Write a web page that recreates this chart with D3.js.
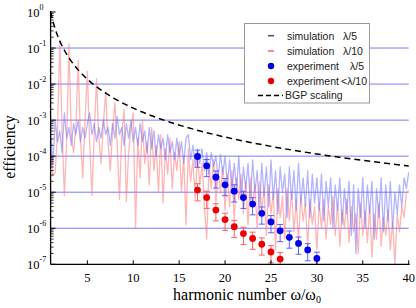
<!DOCTYPE html>
<html><head><meta charset="utf-8">
<script src="https://cdn.jsdelivr.net/npm/d3@7"></script>
<style>body{margin:0;background:#fff}svg{display:block}</style>
</head><body>
<svg id="c" width="416" height="308"></svg>
<script>
// simulation sampling grid: harmonics 1 .. 40 in steps of 0.25 (157 samples)
const simHarmonics = d3.range(157).map(i => 1 + i * 0.25);
// log10(efficiency)
const simLambda10Log = [
 -3.75,-4.55,-4.45,-3.3,
 -0.85,-3.3,-5.1,-3.6,
 -0.88,-3.4,-3.9,-3.2,
 -1.35,-3.5,-4.6,-3.0,
 -1.65,-3.6,-5.1,-3.4,
 -1.85,-3.5,-4.2,-3.1,
 -2.2,-3.6,-4.4,-3.3,
 -2.5,-3.7,-5.2,-3.4,
 -2.7,-5.25,-3.9,-3.2,
 -2.8,-6.0,-3.5,-4.6,
 -3.0,-4.2,-3.6,-4.8,
 -3.2,-4.4,-3.7,-5.0,
 -3.4,-5.3,-3.8,-4.5,
 -3.5,-4.9,-3.9,-4.4,
 -3.6,-5.0,-4.0,-5.9,
 -3.8,-4.7,-4.1,-5.2,
 -3.9,-4.8,-4.2,-5.4,
 -6.3,-4.3,-4.9,-4.1,
 -5.3,-4.4,-5.0,-4.3,
 -5.5,-4.5,-5.4,-4.4,
 -5.8,-4.6,-5.2,-4.5,
 -5.6,-4.7,-5.9,-4.6,
 -5.4,-4.8,-6.0,-4.7,
 -5.5,-4.9,-6.2,-4.8,
 -5.6,-5.0,-6.6,-4.9,
 -5.7,-5.1,-6.3,-4.9,
 -5.8,-5.0,-6.1,-5.2,
 -6.4,-5.1,-5.8,-5.3,
 -6.5,-5.2,-5.9,-5.4,
 -6.6,-5.3,-6.0,-5.2,
 -6.3,-5.4,-5.9,-5.1,
 -6.2,-5.3,-6.5,-5.5,
 -6.0,-5.2,-6.4,-5.4,
 -6.1,-5.6,-6.7,-5.3,
 -6.2,-5.5,-6.4,-5.4,
 -6.8,-5.6,-6.3,-5.3,
 -6.5,-5.7,-6.2,-5.5,
 -6.6,-5.8,-7.0,-5.6,
 -6.1,-5.4,-5.7,-5.0,
 -4.95];
const simLambda5Log = [
 -3.3,-4.2,-3.0,-3.6,
 -3.3,-3.9,-2.8,-3.5,
 -3.2,-3.7,-3.1,-3.4,
 -3.0,-3.6,-3.2,-3.5,
 -3.1,-2.8,-3.4,-3.1,
 -3.6,-3.2,-3.5,-3.0,
 -3.4,-3.2,-3.7,-3.1,
 -3.5,-2.9,-3.4,-3.2,
 -3.7,-3.1,-3.5,-3.0,
 -3.6,-3.2,-3.7,-3.1,
 -3.6,-3.3,-3.9,-3.2,
 -3.8,-3.3,-4.0,-3.4,
 -3.8,-3.5,-4.1,-3.4,
 -3.9,-3.6,-4.1,-3.5,
 -4.0,-3.6,-4.2,-3.5,
 -3.4,-4.1,-3.7,-4.3,
 -3.8,-4.2,-3.8,-4.4,
 -3.9,-4.5,-3.9,-4.3,
 -4.0,-4.6,-3.95,-4.5,
 -4.0,-4.8,-4.1,-5.0,
 -4.2,-4.9,-4.0,-5.2,
 -4.3,-4.9,-4.2,-5.3,
 -4.1,-5.0,-4.4,-5.5,
 -4.2,-5.1,-4.3,-5.4,
 -4.1,-5.2,-4.4,-5.6,
 -4.3,-5.0,-4.5,-5.7,
 -4.3,-5.2,-4.4,-5.5,
 -4.2,-5.3,-4.6,-5.4,
 -4.4,-5.7,-4.5,-5.3,
 -4.6,-5.5,-4.5,-5.8,
 -4.7,-5.4,-4.6,-6.0,
 -4.8,-5.5,-4.6,-5.9,
 -4.9,-5.6,-4.7,-6.2,
 -4.8,-6.7,-4.9,-5.7,
 -4.6,-6.0,-4.8,-5.6,
 -4.7,-6.3,-4.9,-5.7,
 -4.6,-6.1,-4.8,-5.8,
 -4.7,-6.0,-5.0,-5.6,
 -4.8,-5.4,-4.6,-4.9,
 -4.45];
// BGP scaling curve
const bgpHarmonics = [1,1.5,2,2.5,3,4,5,6,7,8,10,12,14,16,18,20,22.5,25,27.5,30,32.5,35,37.5,40];
const bgpValues = [1.0,0.339,0.157,0.0869,0.0534,0.0248,0.01368,0.0084,0.00558,0.0039,0.00215,0.001325,0.000878,0.000615,0.000449,0.000339,0.000248,0.000187,0.000145,0.000115,9.3e-5,7.63e-5,6.35e-5,5.34e-5];
// experiment
const expL5Harmonics = [17,18,19,20,21,22,23,24,25,26,27,28,29,30];
const expL5Values = [9.8e-5,5.4e-5,2.6e-5,1.6e-5,1.07e-5,7.1e-6,4.7e-6,2.6e-6,1.5e-6,8.5e-7,5.6e-7,3.8e-7,2.5e-7,1.45e-7];
const expL5RelErr = [0.5,0.5,0.5,0.5,0.5,0.5,0.5,0.5,0.5,0.5,0.5,0.5,0.5,0.5];
const expL10Harmonics = [17,18,19,20,21,22,23,24,25,26];
const expL10Values = [1.15e-5,7.1e-6,3.2e-6,1.74e-6,1.1e-6,7.1e-7,5.2e-7,3.6e-7,2.2e-7,1.4e-7];
const expL10RelErr = [0.5,0.5,0.5,0.5,0.5,0.5,0.5,0.5,0.5,0.5];
// axes
const xTicks = [5,10,15,20,25,30,35,40];
const yExponents = [0,-1,-2,-3,-4,-5,-6,-7];
const gridExponents = [-1,-2,-3,-4,-5,-6];

const svg = d3.select("#c");
const x = d3.scaleLinear().domain([1,40]).range([50.6,408.7]);
const y = d3.scaleLog().domain([1e-7,1]).range([264.3,12]);
const serif = "'Liberation Serif','Times New Roman',serif";
const sans = "'Liberation Sans',Arial,sans-serif";

svg.append("defs").append("clipPath").attr("id","plot")
  .append("rect").attr("x",x(1)).attr("y",y(1)-1).attr("width",x(40)-x(1)+1).attr("height",y(1e-7)-y(1)+1);

// grid
svg.append("g").selectAll("line").data(gridExponents).join("line")
  .attr("x1",x(1)).attr("x2",x(40))
  .attr("y1",d=>y(Math.pow(10,d))).attr("y2",d=>y(Math.pow(10,d)))
  .attr("stroke","#7a7aff").attr("stroke-width",1);

const plot = svg.append("g").attr("clip-path","url(#plot)");
const simLine = d3.line().x((d,i)=>x(simHarmonics[i])).y(d=>y(Math.pow(10,d)));
plot.append("path").attr("d",simLine(simLambda10Log)).attr("fill","none")
  .attr("stroke","#ff7a7a").attr("stroke-opacity",0.55).attr("stroke-width",1.3).attr("stroke-linejoin","round");
plot.append("path").attr("d",simLine(simLambda5Log)).attr("fill","none")
  .attr("stroke","#6a6aff").attr("stroke-opacity",0.5).attr("stroke-width",1.3).attr("stroke-linejoin","round");

// BGP
const bgpLine = d3.line().curve(d3.curveMonotoneX).x((d,i)=>x(bgpHarmonics[i])).y(d=>y(d));
plot.append("path").attr("d",bgpLine(bgpValues)).attr("fill","none")
  .attr("stroke","#000").attr("stroke-width",1.5).attr("stroke-dasharray","6,4");

// experiment
function expSeries(hs, vs, errs, barColor, dotColor){
  const g = plot.append("g");
  hs.forEach((h,i)=>{
    const v = vs[i], e = errs[i];
    const yt = y(v*(1+e)), yb = y(Math.max(v*(1-e),1e-9));
    g.append("line").attr("x1",x(h)).attr("x2",x(h)).attr("y1",yt).attr("y2",yb).attr("stroke",barColor).attr("stroke-width",0.9);
    g.append("line").attr("x1",x(h)-3).attr("x2",x(h)+3).attr("y1",yt).attr("y2",yt).attr("stroke",barColor).attr("stroke-width",0.9);
    g.append("line").attr("x1",x(h)-3).attr("x2",x(h)+3).attr("y1",yb).attr("y2",yb).attr("stroke",barColor).attr("stroke-width",0.9);
  });
  g.selectAll("circle").data(vs).join("circle")
    .attr("cx",(d,i)=>x(hs[i])).attr("cy",d=>y(d)).attr("r",3.4).attr("fill",dotColor);
}
expSeries(expL5Harmonics, expL5Values, expL5RelErr, "#5050ff", "#0000ee");
expSeries(expL10Harmonics, expL10Values, expL10RelErr, "#ff5050", "#ee0000");

// axes
const ax = svg.append("g");
ax.append("line").attr("x1",x(1)).attr("x2",x(40)+1).attr("y1",y(1e-7)).attr("y2",y(1e-7)).attr("stroke","#000").attr("stroke-width",1.3);
ax.append("line").attr("x1",x(1)).attr("x2",x(1)).attr("y1",y(1)-1).attr("y2",y(1e-7)).attr("stroke","#000").attr("stroke-width",1.3);
xTicks.forEach(t=>{
  ax.append("line").attr("x1",x(t)).attr("x2",x(t)).attr("y1",y(1e-7)).attr("y2",y(1e-7)-4).attr("stroke","#000").attr("stroke-width",1);
  ax.append("text").attr("x",x(t)).attr("y",282).attr("text-anchor","middle")
    .attr("font-family",serif).attr("font-size",12.5).text(t);
});
yExponents.forEach(e=>{
  const yy = y(Math.pow(10,e));
  ax.append("line").attr("x1",x(1)).attr("x2",x(1)+5).attr("y1",yy).attr("y2",yy).attr("stroke","#000").attr("stroke-width",1);
  if (e > -7) for (let m=2;m<=9;m++){
    const ym = y(m*Math.pow(10,e-1));
    ax.append("line").attr("x1",x(1)).attr("x2",x(1)+3).attr("y1",ym).attr("y2",ym).attr("stroke","#000").attr("stroke-width",0.8);
  }
  const t = ax.append("text").attr("x",27).attr("y",yy+4.5).attr("font-family",serif).attr("font-size",12.5);
  t.append("tspan").text("10");
  t.append("tspan").attr("dy",-6.5).attr("font-size",8).text(e===0?"0":"-"+(-e));
});

// axis titles
svg.append("text").attr("transform","translate(15,147) rotate(-90)").attr("text-anchor","middle")
  .attr("font-family",serif).attr("font-size",16).text("efficiency");
const xl = svg.append("text").attr("x",247).attr("y",300).attr("text-anchor","middle")
  .attr("font-family",serif).attr("font-size",16);
xl.append("tspan").text("harmonic number ω/ω");
xl.append("tspan").attr("font-size",10).attr("dy",3).text("0");

// legend
const lg = svg.append("g");
lg.append("rect").attr("x",244.5).attr("y",23.5).attr("width",125).attr("height",79.5)
  .attr("fill","#fff").attr("stroke","#999").attr("stroke-width",1);
const legendLabels = ["simulation","simulation","experiment","experiment","BGP scaling"];
const legendSuffix = ["λ/5","λ/10","λ/5","<λ/10",""];
const legendSuffixX = [343,343,350,341,0];
const rowY = [35.7,51,66,81,95.5];
legendLabels.forEach((lab,i)=>{
  const yy = rowY[i];
  if (i===0) lg.append("line").attr("x1",268).attr("x2",274).attr("y1",yy).attr("y2",yy).attr("stroke","#555").attr("stroke-width",1.6);
  if (i===1) lg.append("line").attr("x1",268).attr("x2",274).attr("y1",yy).attr("y2",yy).attr("stroke","#ff6a6a").attr("stroke-width",1.6);
  if (i===2) lg.append("circle").attr("cx",271).attr("cy",yy).attr("r",3.2).attr("fill","#0000ee");
  if (i===3) lg.append("circle").attr("cx",271).attr("cy",yy).attr("r",3.2).attr("fill","#ee0000");
  if (i===4) lg.append("line").attr("x1",258).attr("x2",283).attr("y1",yy).attr("y2",yy).attr("stroke","#000").attr("stroke-width",1.5).attr("stroke-dasharray","5,3");
  lg.append("text").attr("x",i===4?285:287).attr("y",yy+3.8).attr("font-family",sans).attr("font-size",10.5).attr("fill","#222").text(lab);
  if (legendSuffix[i]) lg.append("text").attr("x",legendSuffixX[i]).attr("y",yy+3.8).attr("font-family",sans).attr("font-size",10.5).attr("fill","#222").text(legendSuffix[i]);
});
</script>
</body></html>
